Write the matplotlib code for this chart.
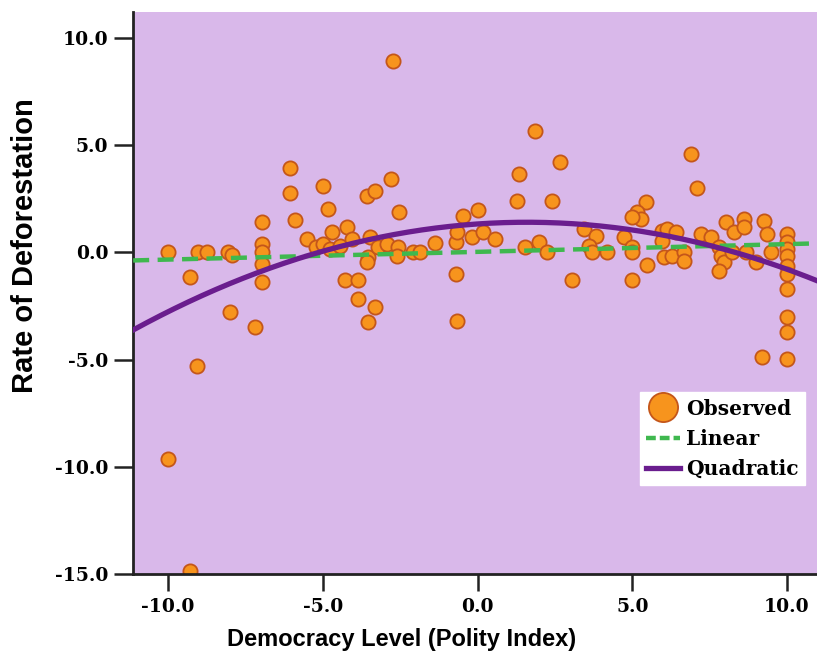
import numpy as np
import matplotlib
matplotlib.use("Agg")
import matplotlib.pyplot as plt
from matplotlib.ticker import FormatStrFormatter
from matplotlib.lines import Line2D

# observed points (democracy level, deforestation rate)
polity = [-10.0, -9.29, -9.06, -9.29, -10.0, -9.03, -8.74, -8.06, -7.94, -8.0,
          -7.19, -6.97, -6.97, -6.97, -6.97, -6.97, -6.06, -6.06, -5.90, -5.52,
          -5.0, -4.84, -5.23, -5.0, -4.71, -4.23, -4.77, -4.45, -4.06, -4.29,
          -3.87, -3.87, -3.58, -3.32, -2.81, -2.55, -2.74, -3.55, -3.32, -3.55,
          -3.58, -3.48, -3.23, -2.94, -2.58, -2.61, -2.10, -1.87, -1.39, -0.71,
          -0.71, -0.65, -0.48, 0.0, -0.65, -0.19, 0.16, 0.55, 1.26, 1.35,
          1.87, 1.52, 2.0, 2.26, 2.39, 2.65, 3.06, 3.45, 3.84, 3.61,
          3.71, 4.19, 4.74, 5.0, 5.0, 5.0, 5.45, 5.16, 5.29, 5.0,
          5.48, 5.97, 6.13, 6.42, 5.97, 6.03, 6.29, 6.68, 6.68, 6.90,
          7.10, 7.23, 7.55, 7.81, 7.87, 7.97, 7.81, 8.03, 8.29, 8.61,
          8.61, 8.23, 8.68, 9.0, 9.26, 9.35, 9.48, 9.19,
          10.0, 10.0, 10.0, 10.0, 10.0, 10.0, 10.0, 10.0, 10.0, 10.0]
deforest = [-9.63, -14.84, -5.30, -1.16, 0.0, 0.0, 0.0, 0.0, -0.14, -2.79,
            -3.49, 1.40, 0.37, 0.0, -0.56, -1.40, 3.91, 2.74, 1.49, 0.60,
            3.07, 2.0, 0.23, 0.37, 0.93, 1.16, 0.14, 0.28, 0.60, -1.30,
            -1.30, -2.19, 2.60, 2.84, 3.40, 1.86, 8.93, -3.26, -2.56, -0.23,
            -0.47, 0.70, 0.23, 0.37, 0.23, -0.19, 0.0, 0.0, 0.42, 0.47,
            -1.02, -3.21, 1.67, 1.95, 0.93, 0.70, 0.93, 0.60, 2.37, 3.67,
            5.67, 0.23, 0.47, 0.0, 2.37, 4.23, -1.30, 1.07, 0.74, 0.28,
            0.0, 0.0, 0.70, 0.23, 0.0, -1.30, 2.33, 1.86, 1.53, 1.63,
            -0.60, 0.98, 1.07, 0.93, 0.51, -0.23, -0.19, 0.0, -0.42, 4.56,
            2.98, 0.84, 0.70, 0.23, -0.19, -0.47, -0.88, 1.40, 0.93, 1.53,
            1.16, 0.0, 0.0, -0.47, 1.44, 0.84, 0.0, -4.88,
            0.84, 0.47, 0.14, -0.19, -0.65, -1.02, -1.72, -3.02, -3.72, -4.98]

# fitted curve coefficients (highest power first)
linear_coef = [0.036, 0.02]
quad_coef = [-0.031, 0.099, 1.32]

x_ticks = [-10, -5, 0, 5, 10]
y_ticks = [-15, -10, -5, 0, 5, 10]

plt.rcParams["font.family"] = ["DejaVu Serif"]
plt.rcParams["font.weight"] = "bold"
plt.rcParams["axes.unicode_minus"] = False

fig = plt.figure(figsize=(8.17, 6.63), dpi=100)
ax = fig.add_axes([0.163, 0.134, 0.837, 0.848])
ax.set_facecolor("#d9b8ea")

xlim = (-11.13, 10.97)
ax.set_xlim(*xlim)
ax.set_ylim(-15, 11.2)

ax.scatter(polity, deforest, s=105, color="#f7941d", edgecolor="#c4561a",
           linewidth=1.3, zorder=2)

xs = np.linspace(xlim[0], xlim[1], 200)
ax.plot(xs, np.polyval(linear_coef, xs), color="#3fb84f", lw=3.2,
        dashes=(3.6, 1.9), zorder=3)
ax.plot(xs, np.polyval(quad_coef, xs), color="#6a1d8e", lw=3.8, zorder=4)

ax.set_xticks(x_ticks)
ax.set_yticks(y_ticks)
ax.xaxis.set_major_formatter(FormatStrFormatter("%.1f"))
ax.yaxis.set_major_formatter(FormatStrFormatter("%.1f"))
ax.tick_params(axis="both", direction="out", width=1.8, color="#222222",
               labelsize=13.5)
ax.tick_params(axis="y", length=14, pad=4)
ax.tick_params(axis="x", length=12, pad=5)

for s in ["top", "right"]:
    ax.spines[s].set_visible(False)
for s in ["left", "bottom"]:
    ax.spines[s].set_linewidth(2)
    ax.spines[s].set_color("#222222")

ax.set_xlabel("Democracy Level (Polity Index)", family="Liberation Sans",
              fontsize=17, fontweight="bold")
ax.xaxis.set_label_coords(0.393, -0.096)
ax.set_ylabel("Rate of Deforestation", family="Liberation Sans",
              fontsize=21, fontweight="bold")
ax.yaxis.set_label_coords(-0.137, 0.585)

handles = [
    Line2D([], [], ls="none", marker="o", markersize=21, markerfacecolor="#f7941d",
           markeredgecolor="#c4561a", markeredgewidth=1.3),
    Line2D([], [], color="#3fb84f", lw=3.2, dashes=(2.2, 0.9)),
    Line2D([], [], color="#6a1d8e", lw=3.8),
]
leg = fig.legend(handles, ["Observed", "Linear", "Quadratic"], loc="upper left",
                 bbox_to_anchor=(0.783, 0.408), frameon=True, fancybox=False,
                 prop={"family": "DejaVu Serif", "weight": "bold", "size": 14.5},
                 handlelength=1.7, handletextpad=0.3, labelspacing=0.5,
                 borderpad=0.3, borderaxespad=0)
leg.get_frame().set_facecolor("white")
leg.get_frame().set_edgecolor("white")
leg.get_frame().set_alpha(1)

fig.savefig("out.png", dpi=100)
